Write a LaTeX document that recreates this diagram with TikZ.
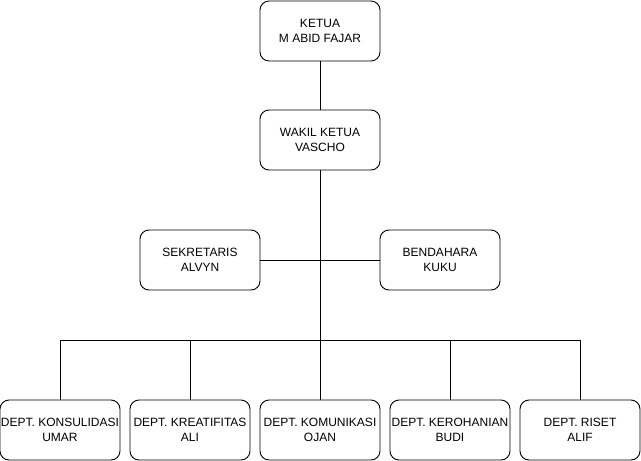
\documentclass[tikz,border=0pt]{standalone}
\usepackage{fontspec}
\setmainfont{Liberation Sans}
\begin{document}
\begin{tikzpicture}[x=1pt,y=-1pt,
  box/.style={draw=black,line width=0.9pt,rounded corners=9pt,minimum width=120pt,minimum height=60pt,
    align=center,inner sep=0pt,font=\fontsize{12}{14.5}\selectfont,fill=white},
  link/.style={draw=black,line width=0.9pt}]
\useasboundingbox (0,0) rectangle (641,461);
\node[box] (ketua) at (320,31) {KETUA\\M ABID FAJAR};
\node[box] (wakil) at (320,140) {WAKIL KETUA\\VASCHO};
\node[box] (sek) at (200,260) {SEKRETARIS\\ALVYN};
\node[box] (ben) at (440,260) {BENDAHARA\\KUKU};
\node[box] (d1) at (60,430) {DEPT. KONSULIDASI\\UMAR};
\node[box] (d2) at (190,430) {DEPT. KREATIFITAS\\ALI};
\node[box] (d3) at (320,430) {DEPT. KOMUNIKASI\\OJAN};
\node[box] (d4) at (450,430) {DEPT. KEROHANIAN\\BUDI};
\node[box] (d5) at (580,430) {DEPT. RISET\\ALIF};
\coordinate (bus) at (320,340);
\draw[link] (ketua) -- (wakil);
\draw[link] (wakil) -- (bus);
\draw[link] (sek) -- (ben);
\draw[link] (d1.north) |- (bus);
\draw[link] (d5.north) |- (bus);
\draw[link] (d2.north) -- (d2.north |- bus);
\draw[link] (d3.north) -- (bus);
\draw[link] (d4.north) -- (d4.north |- bus);
\end{tikzpicture}
\end{document}
